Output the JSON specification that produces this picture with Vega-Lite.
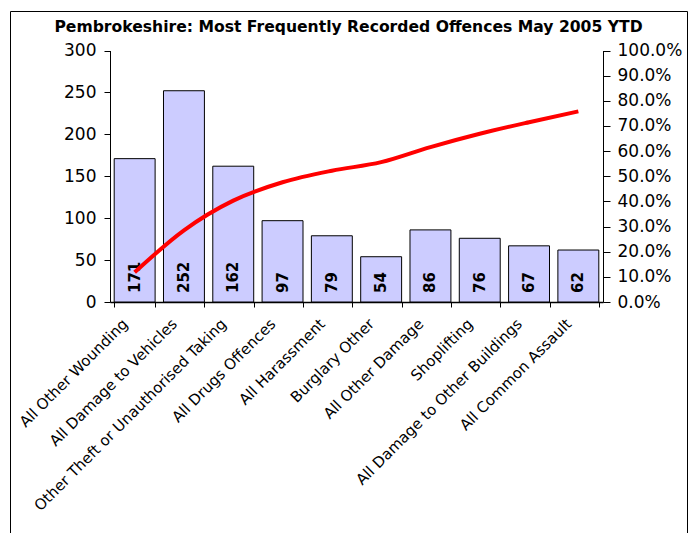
{
  "$schema": "https://vega.github.io/schema/vega-lite/v6.json",
  "autosize": "none",
  "padding": {"left": 10, "top": 11, "right": 3, "bottom": 0},
  "width": 677,
  "height": 530,
  "config": {
    "view": {"stroke": "#000000", "strokeWidth": 1},
    "font": "DejaVu Sans",
    "axis": {"grid": false, "domainColor": "#000000", "tickColor": "#000000", "labelColor": "#000000", "labelFont": "DejaVu Sans"}
  },
  "title": {
    "text": "Pembrokeshire: Most Frequently Recorded Offences May 2005 YTD",
    "font": "DejaVu Sans",
    "fontSize": 15.6,
    "fontWeight": "bold",
    "color": "#000000",
    "anchor": "middle",
    "frame": "group",
    "offset": -25
  },
  "data": {
    "values": [
      {"offence": "All Other Wounding", "count": 171, "cum": 0.118},
      {"offence": "All Damage to Vehicles", "count": 252, "cum": 0.285},
      {"offence": "Other Theft or Unauthorised Taking", "count": 162, "cum": 0.403},
      {"offence": "All Drugs Offences", "count": 97, "cum": 0.476},
      {"offence": "All Harassment", "count": 79, "cum": 0.522},
      {"offence": "Burglary Other", "count": 54, "cum": 0.556},
      {"offence": "All Other Damage", "count": 86, "cum": 0.616},
      {"offence": "Shoplifting", "count": 76, "cum": 0.669},
      {"offence": "All Damage to Other Buildings", "count": 67, "cum": 0.715},
      {"offence": "All Common Assault", "count": 62, "cum": 0.758}
    ]
  },
  "encoding": {
    "x": {
      "field": "offence",
      "type": "nominal",
      "sort": null,
      "title": null,
      "scale": {"range": [100, 593], "paddingInner": 0.17, "paddingOuter": 0.085},
      "axis": {
        "offset": -239,
        "labelAngle": -45,
        "labelFontSize": 15,
        "labelPadding": 9,
        "labelOffset": -15,
        "tickSize": 5,
        "tickBand": "extent",
        "domainWidth": 1.5,
        "labelLimit": 400
      }
    }
  },
  "layer": [
    {
      "encoding": {
        "y": {
          "field": "count",
          "type": "quantitative",
          "title": null,
          "scale": {"domain": [0, 300], "range": [291, 39.5], "nice": false},
          "axis": {
            "orient": "left",
            "offset": -100,
            "values": [0, 50, 100, 150, 200, 250, 300],
            "labelFontSize": 17,
            "tickSize": 6,
            "labelPadding": 8
          }
        }
      },
      "layer": [
        {
          "mark": {"type": "bar", "fill": "#CCCCFF", "stroke": "#000000", "strokeWidth": 1}
        },
        {
          "mark": {"type": "text", "angle": 270, "align": "left", "baseline": "middle", "dx": 9, "fontSize": 15, "fontWeight": "bold", "color": "#000000"},
          "encoding": {
            "y": {"datum": 0, "type": "quantitative"},
            "text": {"field": "count", "type": "quantitative"}
          }
        }
      ]
    },
    {
      "mark": {"type": "line", "color": "#FF0000", "strokeWidth": 4, "interpolate": "monotone"},
      "encoding": {
        "y": {
          "field": "cum",
          "type": "quantitative",
          "title": null,
          "scale": {"domain": [0, 1], "range": [291, 39.5], "nice": false},
          "axis": {
            "orient": "right",
            "offset": -84,
            "values": [0, 0.1, 0.2, 0.3, 0.4, 0.5, 0.6, 0.7, 0.8, 0.9, 1.0],
            "format": ".1%",
            "labelFontSize": 17,
            "tickSize": 7,
            "labelPadding": 7
          }
        }
      }
    }
  ],
  "resolve": {"scale": {"y": "independent"}}
}
